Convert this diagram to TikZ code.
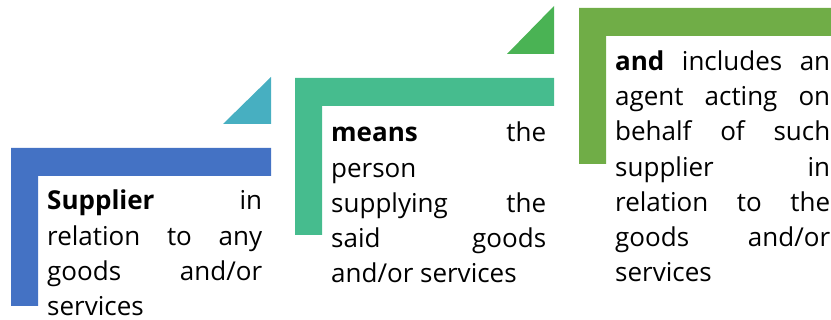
\documentclass[tikz,border=0pt]{standalone}
\usepackage{fontspec}
\setmainfont{Open Sans}
\definecolor{cblue}{HTML}{4472C4}
\definecolor{cteal}{HTML}{47AFC1}
\definecolor{cgreen}{HTML}{46BC8E}
\definecolor{cgtri}{HTML}{4AB354}
\definecolor{clgreen}{HTML}{70AD47}
\hbadness=10000
\begin{document}
\begin{tikzpicture}[x=1pt,y=-1pt,
  txt/.style={anchor=base west,inner sep=0pt,text width=215pt,align=justify,
    font=\fontsize{26}{35.2}\selectfont}]
\useasboundingbox (0,0) rectangle (831,320);
% blue
\fill[cblue] (11,148) -- (271,148) -- (271,176) -- (38,176) -- (38,306) -- (11,306) -- cycle;
\fill[cteal] (223,124) -- (271,124) -- (271,77) -- cycle;
% green
\fill[cgreen] (295,78) -- (554,78) -- (554,106) -- (322,106) -- (322,235) -- (295,235) -- cycle;
\fill[cgtri] (507,54) -- (554,54) -- (554,6) -- cycle;
% light green
\fill[clgreen] (579,8) -- (831,8) -- (831,36) -- (606,36) -- (606,164) -- (579,164) -- cycle;
% texts
\node[txt] (t1) at (47,210) {\textbf{Supplier} in\linebreak relation to any\linebreak goods and/or\linebreak services};
\node[txt] (t2) at (331,142) {\textbf{means} the\linebreak person\linebreak supplying the\linebreak said goods\linebreak and/or services};
\node[txt] (t3) at (615,70.5) {\textbf{and} includes an\linebreak agent acting on\linebreak behalf of such\linebreak supplier in\linebreak relation to the\linebreak goods and/or\linebreak services};
\end{tikzpicture}
\end{document}
